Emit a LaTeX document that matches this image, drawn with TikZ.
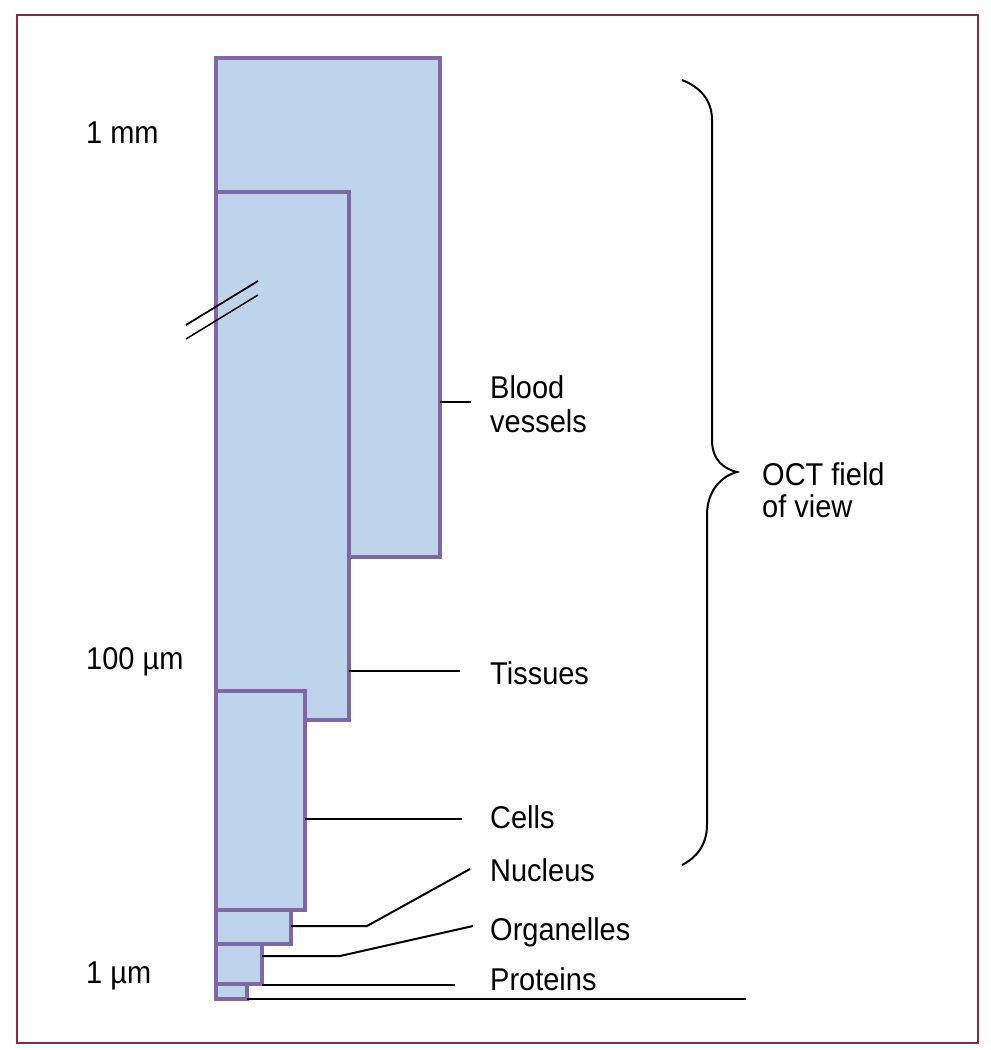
\documentclass[tikz,border=0pt]{standalone}
\usepackage{fontspec}
\setmainfont{Liberation Sans}[FakeStretch=0.92]
\definecolor{boxfill}{RGB}{190,212,235}
\definecolor{boxdraw}{RGB}{128,102,164}
\definecolor{framec}{RGB}{139,40,66}
\begin{document}
\begin{tikzpicture}[x=1pt,y=-1pt,
  box/.style={draw=boxdraw,fill=boxfill,line width=4pt,rectangle,inner sep=0pt,outer sep=0pt,anchor=north west},
  lead/.style={draw=black,line width=2pt},
  lbl/.style={anchor=base west,inner sep=0pt,font=\fontsize{31.5}{34}\selectfont}]
\useasboundingbox (0,0) rectangle (991,1050);
\draw[framec,line width=2pt] (17,15) rectangle (978,1043);
% boxes
\node[box,minimum width=224pt,minimum height=499pt] (bv) at (216,58) {};
\node[box,minimum width=133pt,minimum height=528pt] (ti) at (216,192) {};
\node[box,minimum width=89pt,minimum height=219pt] (ce) at (216,691) {};
\node[box,minimum width=75pt,minimum height=34pt] (nu) at (216,910) {};
\node[box,minimum width=46pt,minimum height=40pt] (or) at (216,944) {};
\node[box,minimum width=31pt,minimum height=15pt] (pr) at (216,984) {};
% break marks
\coordinate (b1a) at (186,325); \coordinate (b1b) at (258,281);
\coordinate (b2a) at (186,339); \coordinate (b2b) at (258,295);
\draw[line width=1.8pt] (b1a) -- (b1b);
\draw[line width=1.5pt] (b2a) -- (b2b);
% scale labels
\node[lbl] (mm) at (86,143) {1 mm};
\node[lbl] (um100) at (86,669) {100 µm};
\node[lbl] (um1) at (86,983) {1 µm};
% right labels
\node[lbl] (tbv) at (490,398) {Blood};
\node[lbl] (tbv2) at (490,432) {vessels};
\node[lbl] (tti) at (490,684) {Tissues};
\node[lbl] (tce) at (490,828) {Cells};
\node[lbl] (tnu) at (490,881) {Nucleus};
\node[lbl] (tor) at (490,940) {Organelles};
\node[lbl] (tpr) at (490,990) {Proteins};
\node[lbl] (oct) at (762,485) {OCT field};
\node[lbl] (oct2) at (762,517) {of view};
% leader ends
\coordinate (lbv) at (471,402);
\coordinate (lti) at (460,671);
\coordinate (lce) at (462,819);
\coordinate (knu) at (367,926); \coordinate (lnu) at (470,869);
\coordinate (kor) at (340,956); \coordinate (lor) at (473,926);
\coordinate (lpr) at (455,985);
\coordinate (lbase) at (746,999);
\draw[lead] (bv.east |- lbv) -- (lbv);
\draw[lead] (ti.east |- lti) -- (lti);
\draw[lead] (ce.east |- lce) -- (lce);
\draw[lead] (nu.east |- knu) -- (knu) -- (lnu);
\draw[lead] (or.east |- kor) -- (kor) -- (lor);
\draw[lead] (or.south east |- lpr) -- (lpr);
\draw[lead] (pr.south east) -- (lbase);
% brace
\coordinate (brt) at (682,80);
\coordinate (brm) at (737,472);
\coordinate (brb) at (682,865);
\draw[line width=2pt] (brt) .. controls (700,87) and (712,100) .. (712,120)
  -- (712,440) .. controls (712,460) and (724,469) .. (brm)
  .. controls (722,476) and (707,490) .. (707,515)
  -- (707,825) .. controls (707,845) and (696,858) .. (brb);
\end{tikzpicture}
\end{document}
